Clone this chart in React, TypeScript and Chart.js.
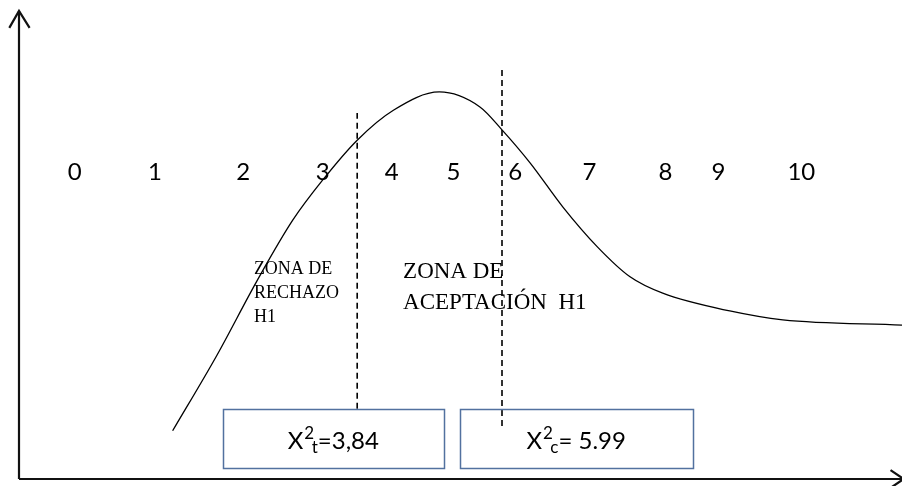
import React, { useEffect, useRef } from "react";
import { Chart, registerables } from "chart.js";

Chart.register(...registerables);

// Diagram units: x 0..100 along the horizontal axis, y 0..100 along the vertical axis
const curveX = [17.4, 22.4, 27.0, 31.0, 34.4, 38.3, 42.4, 47.6, 52.2, 54.7, 57.9, 61.6, 65.5, 69.2, 72.9, 80.5, 86.5, 100];
const curveY = [10.3, 26.4, 42.5, 55.3, 63.9, 72.4, 78.8, 82.7, 79.5, 74.6, 67.5, 58.1, 49.6, 43.2, 39.7, 35.9, 34.0, 32.9];

const tickLabels = ["0", "1", "2", "3", "4", "5", "6", "7", "8", "9", "10"];
const tickX = [6.3, 15.4, 25.4, 34.4, 42.2, 49.2, 56.2, 64.6, 73.2, 79.2, 88.6];
const tickY = 63.9;

const criticalX = [38.3, 54.7];
const criticalTop = [78.2, 87.4];
const criticalBottom = [15.0, 11.3];

const boxLeft = [23.1, 49.9];
const boxRight = [48.1, 76.3];
const boxTop = 14.9;
const boxBottom = 2.4;
const boxSub = ["t", "c"];
const boxValue = ["=3,84", "= 5.99"];
const boxTextY = 6.4;

const rejectLines = ["ZONA DE", "RECHAZO", "H1"];
const rejectX = 26.6;
const rejectY = [43.8, 38.7, 33.5];

const acceptLines = ["ZONA DE", "ACEPTACIÓN  H1"];
const acceptX = 43.5;
const acceptY = [42.9, 36.3];

const axisMax = 100;

const pts = (xs: number[], ys: number[]) => xs.map((x, i) => ({ x, y: ys[i] }));

const annotations = {
  id: "annotations",
  afterDatasetsDraw(chart: any) {
    const ctx = chart.ctx as CanvasRenderingContext2D;
    const sx = chart.scales.x;
    const sy = chart.scales.y;
    const px = (v: number) => sx.getPixelForValue(v);
    const py = (v: number) => sy.getPixelForValue(v);
    ctx.save();
    ctx.fillStyle = "#000";
    ctx.textBaseline = "alphabetic";

    // number labels
    ctx.font = "24px Lato";
    ctx.textAlign = "center";
    tickLabels.forEach((t, i) => ctx.fillText(t, px(tickX[i]), py(tickY)));

    // zone texts
    ctx.textAlign = "left";
    ctx.font = "18px 'Liberation Serif'";
    rejectLines.forEach((t, i) => ctx.fillText(t, px(rejectX), py(rejectY[i])));
    ctx.font = "23px 'Liberation Serif'";
    acceptLines.forEach((t, i) => ctx.fillText(t, px(acceptX), py(acceptY[i])));

    // boxes
    ctx.strokeStyle = "#52719f";
    ctx.lineWidth = 1.5;
    boxLeft.forEach((l, i) => {
      const x0 = px(l), x1 = px(boxRight[i]);
      const y0 = py(boxTop), y1 = py(boxBottom);
      ctx.strokeRect(Math.round(x0) + 0.5, Math.round(y0) + 0.5, Math.round(x1 - x0), Math.round(y1 - y0));

      const main = "24px Lato";
      const small = "17px Lato";
      ctx.font = main;
      const wX = ctx.measureText("X").width;
      const wV = ctx.measureText(boxValue[i]).width;
      ctx.font = small;
      const w2 = ctx.measureText("2").width;
      const wS = ctx.measureText(boxSub[i]).width;
      const subOff = w2 * 0.75;
      const scriptW = Math.max(w2, subOff + wS);
      const total = wX + 1 + scriptW + wV;
      let x = (x0 + x1) / 2 - total / 2;
      const base = py(boxTextY);
      ctx.textAlign = "left";
      ctx.font = main;
      ctx.fillText("X", x, base);
      x += wX + 1;
      ctx.font = small;
      ctx.fillText("2", x, base - 10);
      ctx.fillText(boxSub[i], x + subOff, base + 4);
      x += scriptW;
      ctx.font = main;
      ctx.fillText(boxValue[i], x, base);
    });
    ctx.restore();
  },
};

export default function App() {
  const ref = useRef<HTMLCanvasElement | null>(null);
  useEffect(() => {
    document.body.style.margin = "0";
    const canvas = ref.current;
    if (!canvas) return;
    const line = (data: any[], extra: any = {}) => ({
      data,
      showLine: true,
      borderColor: "#000",
      borderWidth: 2,
      pointRadius: 0,
      fill: false,
      clip: false,
      ...extra,
    });
    const chart = new Chart(canvas, {
      type: "scatter",
      data: {
        datasets: [
          line(pts(curveX, curveY), { borderWidth: 1.3, tension: 0.4, cubicInterpolationMode: "monotone" }),
          ...criticalX.map((cx, i) =>
            line([{ x: cx, y: criticalBottom[i] }, { x: cx, y: criticalTop[i] }], { borderWidth: 1.6, borderDash: [6, 4] })
          ),
          line([{ x: 0, y: 0 }, { x: 0, y: axisMax }], { borderColor: "#111", borderWidth: 2.2 }),
          line([{ x: 0, y: 0 }, { x: axisMax + 0.2, y: 0 }], { borderColor: "#111", borderWidth: 2.2 }),
          line(
            [{ x: -1.1, y: axisMax - 3.6 }, { x: 0, y: axisMax }, { x: 1.2, y: axisMax - 3.6 }],
            { borderColor: "#111", borderWidth: 2.2 }
          ),
          line(
            [{ x: axisMax - 1.3, y: 1.9 }, { x: axisMax + 0.2, y: 0 }, { x: axisMax - 1.3, y: -1.9 }],
            { borderColor: "#111", borderWidth: 2.2 }
          ),
        ],
      },
      options: {
        animation: false,
        responsive: false,
        devicePixelRatio: 1,
        events: [],
        layout: { padding: { left: 19, top: 11, right: 0, bottom: 7 } },
        scales: {
          x: { type: "linear", min: 0, max: axisMax, display: false },
          y: { type: "linear", min: 0, max: axisMax, display: false },
        },
        plugins: { legend: { display: false }, tooltip: { enabled: false } },
      },
      plugins: [annotations],
    });
    return () => chart.destroy();
  }, []);
  return (
    <div style={{ width: 902, height: 486, background: "#fff" }}>
      <canvas ref={ref} width={902} height={486} style={{ display: "block" }} />
    </div>
  );
}
